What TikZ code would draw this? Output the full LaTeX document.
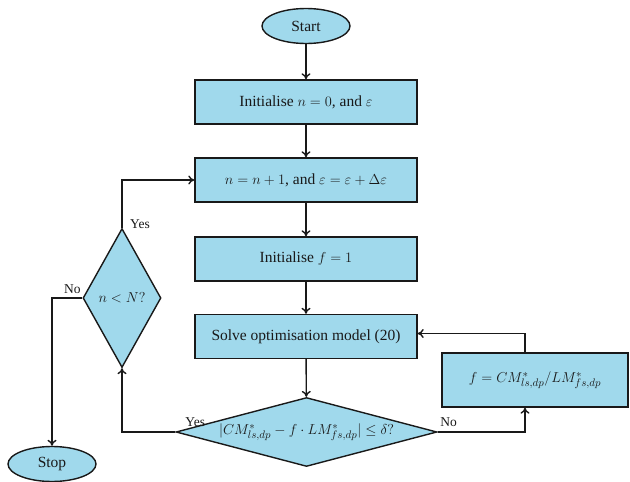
\documentclass[tikz,border=0pt]{standalone}
\usepackage{fontspec}
\setmainfont{Liberation Serif}
\usetikzlibrary{shapes.geometric,arrows.meta}
\definecolor{boxblue}{RGB}{160,217,236}
\definecolor{edgecol}{RGB}{25,25,25}
\begin{document}
\begin{tikzpicture}[x=1pt,y=-1pt,
  every node/.style={font=\fontsize{15.5}{18}\selectfont, text=edgecol},
  procbox/.style={rectangle, draw=edgecol, line width=1.4pt, fill=boxblue,
    minimum width=222pt, minimum height=44pt, inner sep=0pt},
  termnode/.style={ellipse, draw=edgecol, line width=1.4pt, fill=boxblue,
    minimum width=88pt, minimum height=35pt, inner sep=0pt},
  decision/.style={diamond, draw=edgecol, line width=1.4pt, fill=boxblue,
    inner sep=0pt},
  conn/.style={draw=edgecol, line width=1.4pt, -{To[length=6pt,width=9pt]}},
  lbl/.style={font=\fontsize{13.5}{15}\selectfont, inner sep=1pt}]
\useasboundingbox (0,0) rectangle (630,482);

\node[termnode] (start) at (306,26) {Start};
\node[procbox] (b1) at (306,102) {Initialise $n=0$, and $\varepsilon$};
\node[procbox] (b2) at (306,180) {$n=n+1$, and $\varepsilon=\varepsilon+\Delta\varepsilon$};
\node[procbox] (b3) at (306,259) {Initialise $f=1$};
\node[procbox] (b4) at (306,336.5) {Solve optimisation model (20)};
\node[decision, minimum width=261pt, minimum height=69pt] (d2) at (306.5,432)
  {\makebox[0pt]{$|CM^*_{ls,dp}-f\cdot LM^*_{fs,dp}|\le\delta?$}};
\node[decision, minimum width=78pt, minimum height=139pt] (d1) at (122,298)
  {\makebox[0pt]{$n<N?$}};
\node[procbox, minimum width=186pt, minimum height=54pt] (b5) at (535,380)
  {$f=CM^*_{ls,dp}/LM^*_{fs,dp}$};
\node[termnode] (stop) at (52,464) {Stop};

\draw[conn] (start) -- (b1);
\draw[conn] (b1) -- (b2);
\draw[conn] (b2) -- (b3);
\draw[conn] (b3) -- (b4);
\draw[conn] (b4) -- (d2);
\draw[conn] (d2.east) -| ([xshift=-10pt]b5.south);
\draw[conn] ([xshift=-10pt]b5.north) |- ([yshift=3pt]b4.east);
\draw[conn] (d2.west) -| (d1.south);
\draw[conn] (d1.north) |- (b2.west);
\draw[conn] (d1.west) -| (stop.north);

\node[lbl] (yes2) at ([xshift=20pt,yshift=10pt]d2.west) {Yes};
\node[lbl] (no2) at ([xshift=11pt,yshift=10pt]d2.east) {No};
\node[lbl] (yes1) at ([xshift=18pt,yshift=4pt]d1.north) {Yes};
\node[lbl] (no1) at ([xshift=-10pt,yshift=9pt]d1.west) {No};
\end{tikzpicture}
\end{document}
